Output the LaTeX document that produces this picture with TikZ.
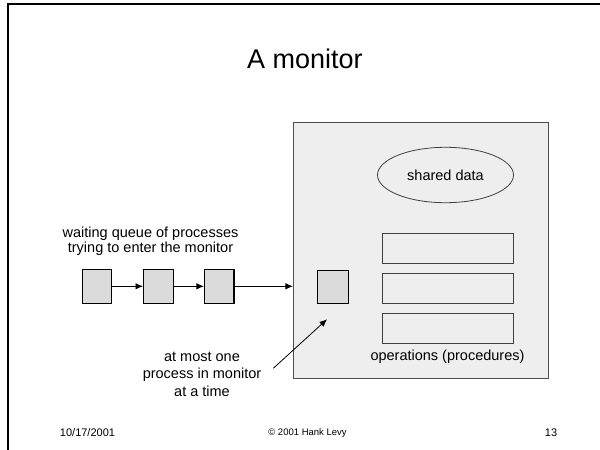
\documentclass[tikz,border=0pt]{standalone}
\usepackage{fontspec}
\setmainfont{Liberation Sans}
\usetikzlibrary{shapes.geometric, arrows.meta}

\tikzset{
    proc/.style={draw=black, fill=gray!28, line width=1.1pt, minimum width=29.5pt, minimum height=34pt, inner sep=0pt},
    opbox/.style={draw=black!75, fill=gray!13, line width=1pt, minimum width=130.6pt, minimum height=30pt, inner sep=0pt},
    txt/.style={inner sep=0pt, align=center, font=\fontsize{14.5}{15}\selectfont},
    qarrow/.style={-{Latex[length=7.5pt, width=6.5pt]}, line width=0.8pt}
}

\begin{document}
\begin{tikzpicture}[x=1pt, y=-1pt]
    \useasboundingbox (0,0) rectangle (600,450);

    % Slide frame
    \draw[line width=2.5pt] (600,4) -- (8,4) -- (8,450);

    % Title
    \node[inner sep=0pt, font=\fontsize{27}{30}\selectfont] (title) at (305,59) {A monitor};

    % The monitor itself
    \node[draw=black!70, fill=gray!13, line width=0.8pt, minimum width=255pt, minimum height=255.6pt, inner sep=0pt] (monitor) at (420.8,250.5) {};
    \node[ellipse, draw=black!75, line width=0.8pt, minimum width=136pt, minimum height=55.4pt, inner sep=0pt, font=\fontsize{14.5}{15}\selectfont] (data) at (445.5,175) {shared data};

    % Operations
    \node[opbox] (op1) at (448,248.2) {};
    \node[opbox] (op2) at (448,288.3) {};
    \node[opbox] (op3) at (448,328.3) {};
    \node[txt] (oplabel) at (447.5,356.7) {operations (procedures)};

    % Process inside the monitor
    \node[proc, minimum width=30.6pt, minimum height=33.3pt] (inside) at (333,286.7) {};

    % Waiting queue
    \node[proc] (q1) at (97,286.3) {};
    \node[proc] (q2) at (158.3,286.3) {};
    \node[proc] (q3) at (219.2,286.3) {};
    \node[txt] (queuelabel) at (150.5,240.8) {waiting queue of processes\\trying to enter the monitor};

    \draw[qarrow] (q1) -- (q2);
    \draw[qarrow] (q2) -- (q3);
    \draw[qarrow] (q3.east) -- (q3.east -| monitor.west);

    % Note about mutual exclusion
    \node[txt, font=\fontsize{14.5}{17.5}\selectfont] (note) at (202,374) {at most one\\process in monitor\\at a time};
    \coordinate (pointer) at (273.3,368.3);
    \coordinate (tip) at (327,319.3);
    \draw[qarrow] (pointer) -- (tip);

    % Footer
    \node[inner sep=0pt, font=\fontsize{11}{12}\selectfont] (date) at (87.5,433) {10/17/2001};
    \node[inner sep=0pt, font=\fontsize{9.5}{11}\selectfont] (copy) at (307.5,433) {© 2001 Hank Levy};
    \node[inner sep=0pt, font=\fontsize{11}{12}\selectfont] (page) at (551,433) {13};
\end{tikzpicture}
\end{document}
